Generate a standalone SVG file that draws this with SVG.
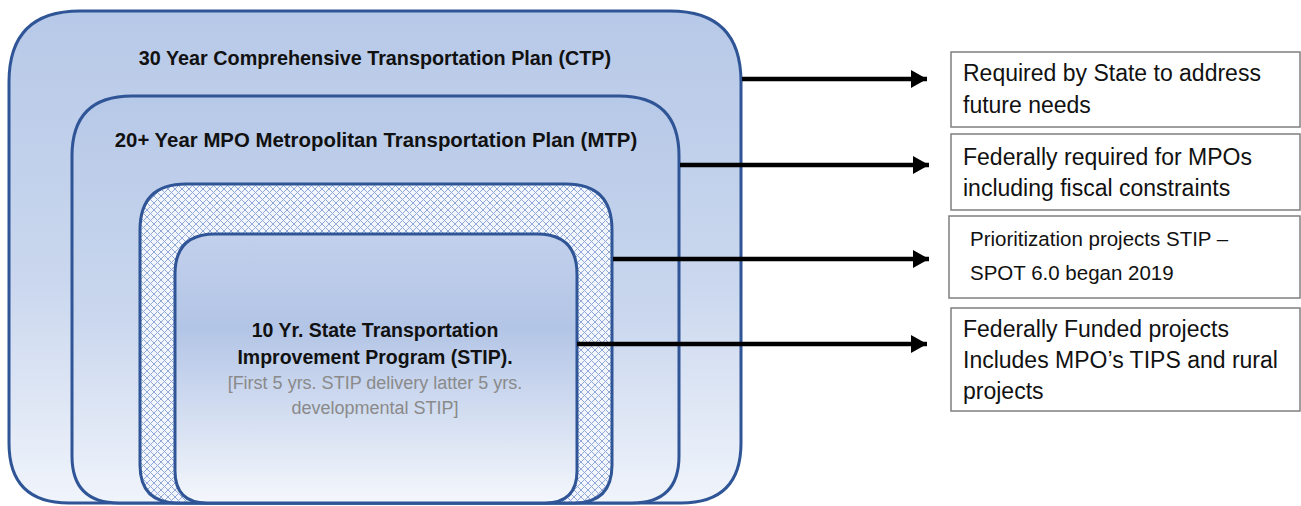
<svg xmlns="http://www.w3.org/2000/svg" width="1301" height="506" viewBox="0 0 1301 506">
<defs>
<style>
.nest{stroke:#2f5597;stroke-width:3}
.bold{font-family:"Liberation Sans",Arial,sans-serif;font-weight:bold;fill:#111;text-anchor:middle}
.gray{font-family:"Liberation Sans",Arial,sans-serif;fill:#8a8a8a;text-anchor:middle}
.note{font-family:"Liberation Sans",Arial,sans-serif;fill:#111}
.box{fill:#fff;stroke:#7f7f7f;stroke-width:1.5}
.conn{stroke:#000;stroke-width:4.5;fill:none}
</style>
<linearGradient id="gOuter" x1="0" y1="0" x2="0" y2="1">
<stop offset="0" stop-color="#b7c9e8"/>
<stop offset="0.55" stop-color="#cad7ee"/>
<stop offset="1" stop-color="#f0f4fb"/>
</linearGradient>
<linearGradient id="gInner" x1="0" y1="0" x2="0" y2="1">
<stop offset="0" stop-color="#c2d0ec"/>
<stop offset="0.35" stop-color="#b3c5e6"/>
<stop offset="1" stop-color="#f4f7fc"/>
</linearGradient>
<pattern id="hatch" patternUnits="userSpaceOnUse" width="7" height="7">
<rect width="7" height="7" fill="#f3f6fc"/>
<path d="M0,0 L7,7 M7,0 L0,7" stroke="#8fa8d8" stroke-width="1"/>
</pattern>
<marker id="arrow" markerUnits="userSpaceOnUse" markerWidth="18" markerHeight="20" refX="16" refY="10" orient="auto">
<path d="M0,1 L16,10 L0,19 Z" fill="#000"/>
</marker>
</defs>
<rect width="1301" height="506" fill="#fff"/>

<g id="ctp">
<path class="nest" fill="url(#gOuter)" d="M9,443 L9,82 Q9,11 80,11 L670,11 Q741,11 741,82 L741,443 Q741,503 681,503 L69,503 Q9,503 9,443 Z"/>
<text class="bold" x="375" y="65" font-size="19.8">30 Year Comprehensive Transportation Plan (CTP)</text>
</g>
<g id="mtp">
<path class="nest" fill="url(#gOuter)" d="M72,456 L72,156 Q72,96 132,96 L619,96 Q679,96 679,156 L679,456 Q679,503 632,503 L119,503 Q72,503 72,456 Z"/>
<text class="bold" x="376" y="147" font-size="20.4">20+ Year MPO Metropolitan Transportation Plan (MTP)</text>
</g>
<g id="hatched">
<path class="nest" fill="url(#hatch)" d="M140,465 L140,230 Q140,184 186,184 L566,184 Q612,184 612,230 L612,465 Q612,503 574,503 L178,503 Q140,503 140,465 Z"/>
</g>
<g id="stip">
<path class="nest" fill="url(#gInner)" d="M175,471 L175,274 Q175,234 215,234 L537,234 Q577,234 577,274 L577,471 Q577,503 545,503 L207,503 Q175,503 175,471 Z"/>
<text class="bold" x="375" y="337" font-size="19.5">10 Yr. State Transportation</text>
<text class="bold" x="375" y="364" font-size="19.5">Improvement Program (STIP).</text>
<text class="gray" x="375" y="389" font-size="18">[First 5 yrs. STIP delivery latter 5 yrs.</text>
<text class="gray" x="375" y="414" font-size="18">developmental STIP]</text>
</g>

<g id="connectors">
<line class="conn" x1="742" y1="79" x2="927" y2="79" marker-end="url(#arrow)"/>
<line class="conn" x1="680" y1="165" x2="929" y2="165" marker-end="url(#arrow)"/>
<line class="conn" x1="613" y1="259" x2="929" y2="259" marker-end="url(#arrow)"/>
<line class="conn" x1="577" y1="344" x2="927" y2="344" marker-end="url(#arrow)"/>
</g>

<g id="note1">
<rect class="box" x="951" y="52" width="349" height="75"/>
<text class="note" x="963" y="81" font-size="23">Required by State to address</text>
<text class="note" x="963" y="113" font-size="23">future needs</text>
</g>
<g id="note2">
<rect class="box" x="951" y="134" width="349" height="76"/>
<text class="note" x="963" y="165" font-size="23">Federally required for MPOs</text>
<text class="note" x="963" y="196" font-size="23">including fiscal constraints</text>
</g>
<g id="note3">
<rect class="box" x="949" y="216" width="351" height="82"/>
<text class="note" x="970" y="246" font-size="20.5">Prioritization projects STIP –</text>
<text class="note" x="970" y="280" font-size="20.5">SPOT 6.0 began 2019</text>
</g>
<g id="note4">
<rect class="box" x="951" y="308" width="349" height="103"/>
<text class="note" x="963" y="337" font-size="23">Federally Funded projects</text>
<text class="note" x="963" y="368" font-size="23">Includes MPO’s TIPS and rural</text>
<text class="note" x="963" y="399" font-size="23">projects</text>
</g>
</svg>
